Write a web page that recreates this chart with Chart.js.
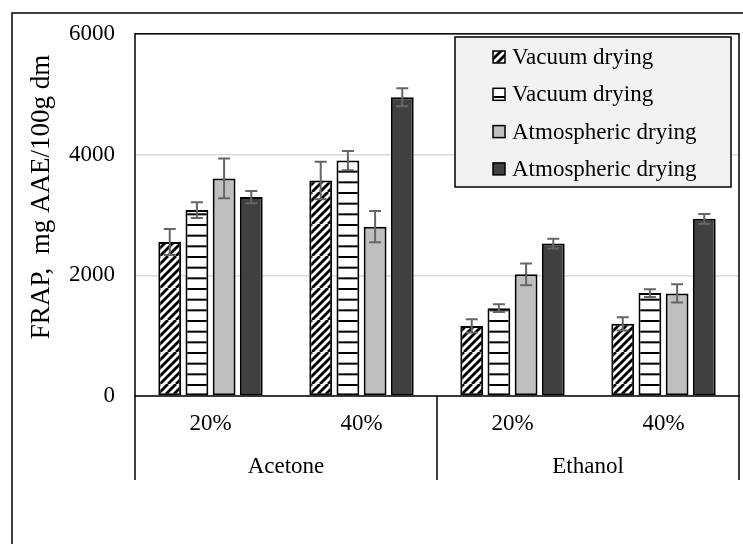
<!DOCTYPE html>
<html>
<head>
<meta charset="utf-8">
<script src="https://cdn.jsdelivr.net/npm/chart.js@4.4.1/dist/chart.umd.min.js"></script>
<style>
  html, body { margin: 0; padding: 0; background: #fff; }
  #wrap { width: 743px; height: 544px; }
</style>
</head>
<body>
<div id="wrap"><canvas id="c" width="743" height="544"></canvas></div>
<script>
// ---- data ----
const concentrations = ['20%', '40%', '20%', '40%'];
const solvents = ['Acetone', 'Ethanol'];
const seriesLabels = ['Vacuum drying', 'Vacuum drying', 'Atmospheric drying', 'Atmospheric drying'];

const vacuumHatched = [2550, 3570, 1160, 1195];
const vacuumStriped = [3080, 3900, 1455, 1705];
const atmLight = [3605, 2805, 2015, 1700];
const atmDark = [3295, 4950, 2525, 2935];

const vacuumHatchedErr = [215, 310, 110, 110];
const vacuumStripedErr = [130, 160, 65, 65];
const atmLightErr = [330, 260, 180, 150];
const atmDarkErr = [100, 150, 80, 80];

const yMin = 0, yMax = 6000, yStep = 2000;
const yTitle = 'FRAP,  mg AAE/100g dm';

const FONT = "'Liberation Serif', 'Times New Roman', serif";

const canvas = document.getElementById('c');
const ctx = canvas.getContext('2d');

// excel-like fill patterns
function makePattern(kind) {
    const t = document.createElement('canvas');
    t.width = 32; t.height = 32;
    const g = t.getContext('2d');
    g.fillStyle = '#fff';
    g.fillRect(0, 0, 32, 32);
    if (kind === 'diag') {
        g.strokeStyle = '#000';
        g.lineWidth = 2.8;
        for (let k = -40; k <= 72; k += 8) {
            g.beginPath();
            g.moveTo(k, 32);
            g.lineTo(k + 32, 0);
            g.stroke();
        }
    } else {
        g.fillStyle = '#000';
        for (let i = 0; i < 3; i++) g.fillRect(0, i * 32 / 3, 32, 2);
    }
    return ctx.createPattern(t, 'repeat');
}

const fills = [makePattern('diag'), makePattern('horiz'), '#bfbfbf', '#404040'];
const values = [vacuumHatched, vacuumStriped, atmLight, atmDark];
const errors = [vacuumHatchedErr, vacuumStripedErr, atmLightErr, atmDarkErr];

const datasets = values.map((v, i) => ({
    label: seriesLabels[i],
    data: v,
    errors: errors[i],
    backgroundColor: fills[i],
    borderColor: '#000',
    borderWidth: 2,
    borderSkipped: false,
    categoryPercentage: 0.72,
    barPercentage: 0.84
}));

const decor = {
    id: 'decor',
    beforeDraw(chart) {
        const c = chart.ctx;
        // outer chart frame (cut off at right/bottom)
        c.save();
        c.strokeStyle = '#000';
        c.lineWidth = 1.5;
        c.beginPath();
        c.moveTo(12, 560);
        c.lineTo(12, 13);
        c.lineTo(760, 13);
        c.stroke();
        c.restore();
    },
    afterDatasetsDraw(chart) {
        const c = chart.ctx;
        const y = chart.scales.y;
        c.save();
        c.strokeStyle = '#666';
        c.lineWidth = 2;
        chart.data.datasets.forEach((ds, di) => {
            const meta = chart.getDatasetMeta(di);
            meta.data.forEach((bar, i) => {
                const v = ds.data[i], e = ds.errors[i];
                const top = y.getPixelForValue(v + e);
                const bot = y.getPixelForValue(v - e);
                c.beginPath();
                c.moveTo(bar.x, top); c.lineTo(bar.x, bot);
                c.moveTo(bar.x - 6, top); c.lineTo(bar.x + 6, top);
                c.moveTo(bar.x - 6, bot); c.lineTo(bar.x + 6, bot);
                c.stroke();
            });
        });
        c.restore();
    },
    afterDraw(chart) {
        const c = chart.ctx;
        const a = chart.chartArea;
        const x = chart.scales.x;
        const half = (x.getPixelForValue(1) - x.getPixelForValue(0)) / 2;
        const perGroup = concentrations.length / solvents.length;

        c.save();
        // plot frame
        c.strokeStyle = '#000';
        c.lineWidth = 1.5;
        c.strokeRect(a.left, a.top, a.right - a.left, a.bottom - a.top);

        // category group separators and labels
        const sepBottom = a.bottom + 84;
        c.beginPath();
        for (let gi = 0; gi <= solvents.length; gi++) {
            const idx = gi * perGroup;
            const px = idx < concentrations.length
                ? x.getPixelForValue(idx) - half
                : x.getPixelForValue(idx - 1) + half;
            c.moveTo(px, a.bottom);
            c.lineTo(px, sepBottom);
        }
        c.stroke();

        c.fillStyle = '#000';
        c.font = '23px ' + FONT;
        c.textAlign = 'center';
        c.textBaseline = 'middle';
        solvents.forEach((s, gi) => {
            const l = x.getPixelForValue(gi * perGroup) - half;
            const r = x.getPixelForValue(gi * perGroup + perGroup - 1) + half;
            c.fillText(s, (l + r) / 2, a.bottom + 71);
        });

        // y axis title
        c.save();
        c.translate(42, 197);
        c.rotate(-Math.PI / 2);
        c.font = '27px ' + FONT;
        c.fillText(yTitle, 0, 0);
        c.restore();

        // legend box
        const lx = 455, ly = 37, lw = 276, lh = 150;
        c.fillStyle = '#f2f2f2';
        c.fillRect(lx, ly, lw, lh);
        c.strokeStyle = '#000';
        c.lineWidth = 1.5;
        c.strokeRect(lx, ly, lw, lh);
        c.textAlign = 'left';
        c.font = '23px ' + FONT;
        chart.data.datasets.forEach((ds, i) => {
            const cy = 57 + i * 37.3;
            c.fillStyle = ds.backgroundColor;
            c.fillRect(493, cy - 6, 12, 12);
            c.strokeStyle = '#000';
            c.lineWidth = 1.5;
            c.strokeRect(493, cy - 6, 12, 12);
            c.fillStyle = '#000';
            c.fillText(ds.label, 512, cy + 1);
        });
        c.restore();
    }
};

new Chart(canvas, {
    type: 'bar',
    data: { labels: concentrations, datasets: datasets },
    options: {
        responsive: false,
        animation: false,
        layout: { padding: { left: 0, top: 30, right: 4, bottom: 0 } },
        plugins: { legend: { display: false }, tooltip: { enabled: false } },
        scales: {
            x: {
                grid: { display: false, drawTicks: false },
                border: { display: false },
                ticks: { color: '#000', font: { family: FONT, size: 23 }, padding: 14, maxRotation: 0 },
                afterFit(s) { s.height = 148; }
            },
            y: {
                min: yMin, max: yMax,
                grid: { color: '#d9d9d9', lineWidth: 1.5, drawTicks: false },
                border: { display: false },
                ticks: {
                    stepSize: yStep, color: '#000', font: { family: FONT, size: 23 }, padding: 20,
                    callback: v => String(v)
                },
                afterFit(s) { s.width = 135; }
            }
        }
    },
    plugins: [decor]
});
</script>
</body>
</html>
